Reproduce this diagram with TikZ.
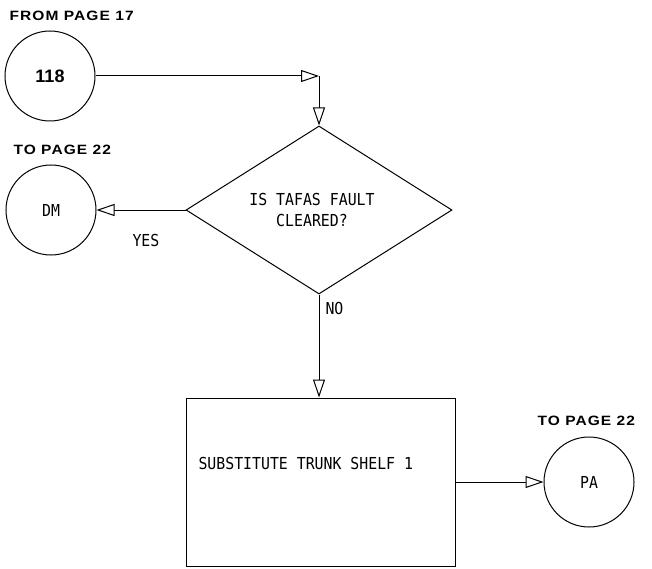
\documentclass[tikz,border=0pt]{standalone}
\usepackage{fontspec}
\usetikzlibrary{arrows.meta,shapes.geometric}
\newfontfamily\plotfont{DejaVu Sans Mono}[FakeStretch=0.9]
\newfontfamily\hdfont{Liberation Sans}[FakeStretch=1.15,LetterSpace=8]
\newfontfamily\numfont{Liberation Sans}
\begin{document}
\begin{tikzpicture}[x=1pt,y=-1pt,
  line width=1pt,
  conn/.style={draw, circle, minimum size=90pt, inner sep=0pt},
  ptext/.style={inner sep=0pt, font=\plotfont\fontsize{16.5}{21}\selectfont},
  htext/.style={inner sep=0pt, anchor=west, font=\hdfont\bfseries\fontsize{13.5}{16}\selectfont},
  arr/.style={-{Triangle[open,length=18pt,width=12pt]}},
  decision/.style={draw, diamond, aspect=1.583, minimum width=266pt, minimum height=168pt, inner sep=0pt},
  procbox/.style={draw, rectangle, minimum width=269pt, minimum height=168pt, inner sep=0pt}
]
\useasboundingbox (0,0) rectangle (652,569);

% nodes
\node[conn, font=\numfont\bfseries\fontsize{18}{18}\selectfont] (c118) at (50,76) {118};
\node[htext] (from) at (9,16) {FROM PAGE 17};

\node[decision] (d) at (319,210) {};
\node[ptext, align=center] (dtext) at (312,210) {IS TAFAS FAULT\\CLEARED?};

\node[conn, ptext, draw, circle, minimum size=90pt] (dm) at (51,210) {DM};
\node[htext] (to1) at (13,150) {TO PAGE 22};
\node[ptext, anchor=west] (yes) at (132,240) {YES};
\node[ptext, anchor=west] (no) at (325,308) {NO};

\node[procbox] (box) at (320.5,482) {};
\node[ptext, anchor=west] (btext) at (198,463) {SUBSTITUTE TRUNK SHELF 1};

\node[conn, ptext, draw, circle, minimum size=90pt] (pa) at (589,482) {PA};
\node[htext] (to2) at (537,421) {TO PAGE 22};

\coordinate (corner) at (d.north |- c118);

% connectors
\draw[arr] (c118) -- (corner);
\draw[arr] (corner) -- (d.north);
\draw[arr] (d.west) -- (dm.east);
\draw[arr] (d.south) -- (d.south |- box.north);
\draw[arr] (box.east) -- (pa.west);
\end{tikzpicture}
\end{document}
